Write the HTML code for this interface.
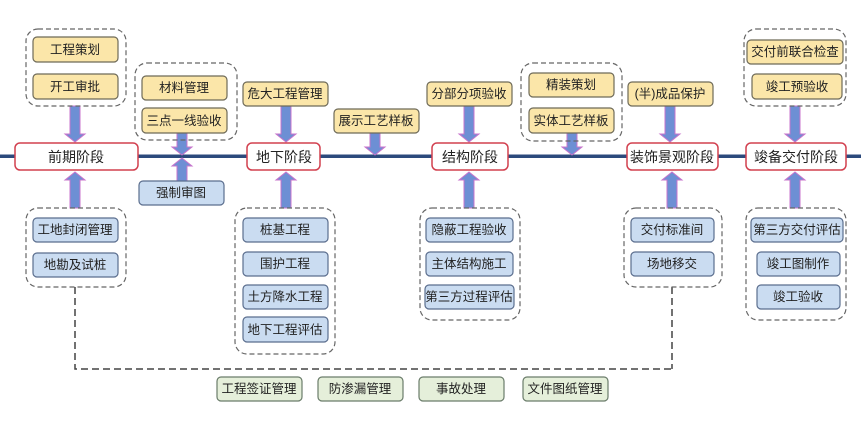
<!DOCTYPE html>
<html><head><meta charset="utf-8"><style>
html,body{margin:0;padding:0;background:#fff;}
text{font-family:"Liberation Sans","Noto Sans CJK SC",sans-serif;font-size:12.5px;fill:#222;text-anchor:middle;dominant-baseline:central;}
.g{fill:none;stroke:#666;stroke-width:1.2;stroke-dasharray:5,3;}
.y{fill:#fbe6a9;stroke:#6e6a58;stroke-width:1.2;}
.b{fill:#cadcf1;stroke:#5b6e8e;stroke-width:1.2;}
.v{fill:#e5efda;stroke:#6a7c6a;stroke-width:1.2;}
.s{fill:#fff;stroke:#d2404f;stroke-width:1.5;}
.st text{font-size:14px;}
</style></head><body>
<svg width="861" height="428" viewBox="0 0 861 428" xmlns="http://www.w3.org/2000/svg">
<rect x="0" y="154.5" width="861" height="3.5" fill="#2c4a7c"/>
<path d="M75 287 V369 H672 M672 287 V369" fill="none" stroke="#444" stroke-width="1.5" stroke-dasharray="7,4"/>

<g>
<path d="M70 106 h10 v28 h5 l-10 8 l-10 -8 h5z" fill="#6d8fd4" stroke="#c874cc" stroke-width="1"/>
<path d="M177 133 h10 v14 h5 l-10 8 l-10 -8 h5z" fill="#6d8fd4" stroke="#c874cc" stroke-width="1"/>
<path d="M281 106 h10 v28 h5 l-10 8 l-10 -8 h5z" fill="#6d8fd4" stroke="#c874cc" stroke-width="1"/>
<path d="M370 133 h10 v14 h5 l-10 8 l-10 -8 h5z" fill="#6d8fd4" stroke="#c874cc" stroke-width="1"/>
<path d="M464 106 h10 v28 h5 l-10 8 l-10 -8 h5z" fill="#6d8fd4" stroke="#c874cc" stroke-width="1"/>
<path d="M567 133 h10 v14 h5 l-10 8 l-10 -8 h5z" fill="#6d8fd4" stroke="#c874cc" stroke-width="1"/>
<path d="M665 106 h10 v28 h5 l-10 8 l-10 -8 h5z" fill="#6d8fd4" stroke="#c874cc" stroke-width="1"/>
<path d="M790 106 h10 v28 h5 l-10 8 l-10 -8 h5z" fill="#6d8fd4" stroke="#c874cc" stroke-width="1"/>
<path d="M70 208 h10 v-28 h5 l-10 -8 l-10 8 h5z" fill="#6d8fd4" stroke="#c874cc" stroke-width="1"/>
<path d="M177 181 h10 v-15 h5 l-10 -8 l-10 8 h5z" fill="#6d8fd4" stroke="#c874cc" stroke-width="1"/>
<path d="M281 208 h10 v-28 h5 l-10 -8 l-10 8 h5z" fill="#6d8fd4" stroke="#c874cc" stroke-width="1"/>
<path d="M464 208 h10 v-28 h5 l-10 -8 l-10 8 h5z" fill="#6d8fd4" stroke="#c874cc" stroke-width="1"/>
<path d="M667 208 h10 v-28 h5 l-10 -8 l-10 8 h5z" fill="#6d8fd4" stroke="#c874cc" stroke-width="1"/>
<path d="M790 208 h10 v-28 h5 l-10 -8 l-10 8 h5z" fill="#6d8fd4" stroke="#c874cc" stroke-width="1"/>
</g>

<g class="st">
<rect class="s" x="15" y="143" width="123" height="27" rx="5"/><text x="76" y="157">前期阶段</text>
<rect class="s" x="247" y="143" width="73" height="27" rx="5"/><text x="284" y="157">地下阶段</text>
<rect class="s" x="432" y="143" width="76" height="27" rx="5"/><text x="470" y="157">结构阶段</text>
<rect class="s" x="627" y="143" width="91" height="27" rx="5"/><text x="672" y="157">装饰景观阶段</text>
<rect class="s" x="746" y="143" width="100" height="27" rx="5"/><text x="796" y="157">竣备交付阶段</text>
</g>

<rect class="g" x="26" y="29" width="100" height="77" rx="12"/>
<rect class="y" x="33" y="37" width="85" height="25" rx="4"/><text x="75" y="50">工程策划</text>
<rect class="y" x="33" y="74" width="85" height="25" rx="4"/><text x="75" y="87">开工审批</text>

<rect class="g" x="135" y="63" width="102" height="77" rx="12"/>
<rect class="y" x="142" y="76" width="85" height="24" rx="4"/><text x="184" y="88">材料管理</text>
<rect class="y" x="142" y="108" width="85" height="25" rx="4"/><text x="184" y="121">三点一线验收</text>
<rect class="b" x="139" y="181" width="85" height="24" rx="4"/><text x="181" y="193">强制审图</text>

<rect class="y" x="243" y="82" width="85" height="24" rx="4"/><text x="285" y="94">危大工程管理</text>
<rect class="y" x="334" y="109" width="85" height="24" rx="4"/><text x="376" y="121">展示工艺样板</text>
<rect class="y" x="427" y="82" width="85" height="24" rx="4"/><text x="469" y="94">分部分项验收</text>

<rect class="g" x="521" y="63" width="101" height="78" rx="12"/>
<rect class="y" x="529" y="73" width="85" height="24" rx="4"/><text x="571" y="85">精装策划</text>
<rect class="y" x="529" y="108" width="85" height="25" rx="4"/><text x="571" y="121">实体工艺样板</text>

<rect class="y" x="628" y="82" width="85" height="24" rx="4"/><text x="670" y="94">(半)成品保护</text>

<rect class="g" x="744" y="29" width="102" height="77" rx="12"/>
<rect class="y" x="747" y="40" width="96" height="24" rx="4"/><text x="795" y="52">交付前联合检查</text>
<rect class="y" x="752" y="74" width="90" height="25" rx="4"/><text x="797" y="87">竣工预验收</text>

<rect class="g" x="26" y="208" width="100" height="79" rx="12"/>
<rect class="b" x="33" y="218" width="85" height="24" rx="4"/><text x="75" y="230">工地封闭管理</text>
<rect class="b" x="33" y="253" width="85" height="24" rx="4"/><text x="75" y="265">地勘及试桩</text>

<rect class="g" x="235" y="208" width="100" height="146" rx="12"/>
<rect class="b" x="243" y="218" width="85" height="24" rx="4"/><text x="285" y="230">桩基工程</text>
<rect class="b" x="243" y="252" width="85" height="24" rx="4"/><text x="285" y="264">围护工程</text>
<rect class="b" x="243" y="285" width="85" height="24" rx="4"/><text x="285" y="297">土方降水工程</text>
<rect class="b" x="243" y="317" width="85" height="25" rx="4"/><text x="285" y="330">地下工程评估</text>

<rect class="g" x="420" y="208" width="100" height="112" rx="12"/>
<rect class="b" x="426" y="218" width="87" height="24" rx="4"/><text x="469" y="230">隐蔽工程验收</text>
<rect class="b" x="426" y="252" width="87" height="24" rx="4"/><text x="469" y="264">主体结构施工</text>
<rect class="b" x="425" y="285" width="89" height="24" rx="4"/><text x="469" y="297">第三方过程评估</text>

<rect class="g" x="624" y="208" width="98" height="79" rx="12"/>
<rect class="b" x="631" y="218" width="83" height="24" rx="4"/><text x="672" y="230">交付标准间</text>
<rect class="b" x="631" y="252" width="83" height="24" rx="4"/><text x="672" y="264">场地移交</text>

<rect class="g" x="746" y="208" width="100" height="112" rx="12"/>
<rect class="b" x="751" y="218" width="92" height="24" rx="4"/><text x="797" y="230">第三方交付评估</text>
<rect class="b" x="757" y="252" width="83" height="24" rx="4"/><text x="798" y="264">竣工图制作</text>
<rect class="b" x="757" y="285" width="83" height="24" rx="4"/><text x="798" y="297">竣工验收</text>

<rect class="v" x="217" y="377" width="85" height="24" rx="4"/><text x="259" y="389">工程签证管理</text>
<rect class="v" x="318" y="377" width="85" height="24" rx="4"/><text x="360" y="389">防渗漏管理</text>
<rect class="v" x="419" y="377" width="85" height="24" rx="4"/><text x="461" y="389">事故处理</text>
<rect class="v" x="523" y="377" width="85" height="24" rx="4"/><text x="565" y="389">文件图纸管理</text>
</svg>
</body></html>
